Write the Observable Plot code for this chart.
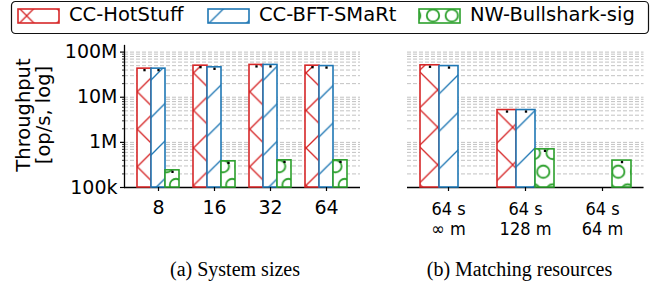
<!DOCTYPE html>
<html><head><meta charset="utf-8">
<script src="https://cdn.jsdelivr.net/npm/d3@7"></script>
<script src="https://cdn.jsdelivr.net/npm/@observablehq/plot@0.6"></script>
<style>
html,body{margin:0;padding:0;background:#fff;}
#fig{position:relative;width:657px;height:283px;overflow:hidden;}
#fig > svg{position:absolute;left:0;top:0;}
</style></head><body><div id="fig"></div>
<script>
// ---------- data ----------
const seriesNames = ["CC-HotStuff", "CC-BFT-SMaRt", "NW-Bullshark-sig"];
const seriesColors = ["#d62728", "#1f77b4", "#2ca02c"];
const seriesHatch = ["x", "/", "o"];

const leftGroups = ["8", "16", "32", "64"];
const leftHotStuff  = [43e6, 50e6, 52e6, 50e6];
const leftBFTSMaRt  = [43e6, 46e6, 52e6, 49e6];
const leftBullshark = [2.4e5, 3.8e5, 4.0e5, 4.0e5];

const rightGroups = ["inf", "128", "64"];
const rightLabelTop = ["64 s", "64 s", "64 s"];
const rightLabelBottom = ["\u221e m", "128 m", "64 m"];
const rightHotStuff  = [51e6, 5.2e6, null];
const rightBFTSMaRt  = [49e6, 5.2e6, null];
const rightBullshark = [null, 7.0e5, 3.95e5];

const yDomain = [1e5, 1.4e8];
const yTicks = [1e5, 1e6, 1e7, 1e8];
const yTickLabels = ["100k", "1M", "10M", "100M"];

const legendLabels = seriesNames;
const captions = ["(a) System sizes", "(b) Matching resources"];
const yLabelLines = ["Throughput", "[op/s, log]"];

// ---------- helpers ----------
const NS = "http://www.w3.org/2000/svg";
const fig = document.getElementById("fig");
const W = 657, H = 283;
const T = 37.5;           // hatch period
const defsSvg = document.createElementNS(NS, "svg");
defsSvg.setAttribute("width", 0); defsSvg.setAttribute("height", 0);
defsSvg.style.position = "absolute";
const defs = document.createElementNS(NS, "defs");
defsSvg.appendChild(defs);
document.body.appendChild(defsSvg);

function el(tag, attrs, parent) {
  const e = document.createElementNS(NS, tag);
  for (const k in attrs) e.setAttribute(k, attrs[k]);
  if (parent) parent.appendChild(e);
  return e;
}
function addPattern(id, kind, color, gx, gy) {
  const pw = kind === "o" ? T / 2 : T, ph = T;
  const p = el("pattern", {id, patternUnits: "userSpaceOnUse", width: pw, height: ph, x: gx, y: gy}, defs);
  el("rect", {x: 0, y: 0, width: pw, height: ph, fill: "white"}, p);
  const sw = 1.3;
  if (kind === "x" || kind === "/") {
    for (let k = -1; k <= 2; k++) {
      const c = k * T;
      // x + y = c  (rising to the right)
      el("line", {x1: c + T, y1: -T, x2: c - 2 * T, y2: 2 * T, stroke: color, "stroke-width": sw}, p);
      if (kind === "x") // x - y = c
        el("line", {x1: c - T, y1: -T, x2: c + 2 * T, y2: 2 * T, stroke: color, "stroke-width": sw}, p);
    }
  } else {
    const r = 6.2;
    [[0, 0], [pw, 0], [0, ph], [pw, ph], [pw / 2, ph / 2]].forEach(([cx, cy]) =>
      el("circle", {cx, cy, r, fill: "none", stroke: color, "stroke-width": 1.8}, p));
  }
  return id;
}
let cloneCount = 0;
function rephase(svg) {
  svg.querySelectorAll('[fill^="url(#"]').forEach(g => {
    const baseId = g.getAttribute("fill").slice(5, -1);
    const base = document.getElementById(baseId);
    if (!base) return;
    const rects = g.tagName === "rect" ? [g] : Array.from(g.querySelectorAll("rect"));
    rects.forEach(r => {
      const m = r.getCTM();
      const c = base.cloneNode(true);
      const id = baseId + "-c" + (cloneCount++);
      c.id = id;
      c.setAttribute("x", +base.getAttribute("x") - m.e);
      c.setAttribute("y", +base.getAttribute("y") - m.f);
      defs.appendChild(c);
      r.setAttribute("fill", `url(#${id})`);
    });
  });
}

const gridTicks = d3.scaleLog().domain(yDomain).ticks();
const minorTicks = gridTicks.filter(t => !yTicks.includes(t));
const yLabelOf = new Map(yTicks.map((t, i) => [t, yTickLabels[i]]));

function rowsOf(groups, cols) {
  const out = [];
  groups.forEach((g, i) => cols.forEach((col, s) => {
    if (col[i] != null) out.push({group: g, series: seriesNames[s], value: col[i]});
  }));
  return out;
}

function panel(o) {
  const common = {
    width: W, height: H,
    marginLeft: o.marginLeft, marginRight: o.marginRight, marginTop: 45, marginBottom: H - 187,
    style: {background: "transparent", fontFamily: o.fontFamily, fontSize: o.fontSize + "px", color: "black", overflow: "visible"}
  };
  // background layer: grid, axes lines
  const bgMarks = [
    Plot.ruleY(gridTicks, {stroke: "#c2c2c2", strokeWidth: 1, strokeDasharray: "4,2"})
  ];
  if (o.yAxis) {
    bgMarks.push(
      Plot.axisY(yTicks, {tickSize: 4, tickPadding: 3, tickFormat: d => yLabelOf.get(d), strokeWidth: 1.2}),
      Plot.axisY(minorTicks, {tickSize: 2, tickFormat: () => "", strokeWidth: 0.8}),
      Plot.frame({anchor: "left", stroke: "black", strokeWidth: 1.3})
    );
  }
  bgMarks.push(Plot.ruleY([yDomain[0]], {stroke: "black", strokeWidth: 1.3}));
  const bg = Plot.plot({...common, y: {type: "log", domain: yDomain, axis: null}, marks: bgMarks});

  // bars layer
  const barMarks = seriesNames.map((s, k) => Plot.barY(o.rows.filter(d => d.series === s), {
    fx: "group", x: "series", y1: yDomain[0], y2: "value",
    fill: `url(#${o.id}-${k})`, stroke: seriesColors[k], strokeWidth: 1.6
  }));
  barMarks.push(Plot.dot(o.rows, {fx: "group", x: "series", y: "value", symbol: "square", r: 1.3, fill: "black", dy: 1.5}));
  barMarks.push(Plot.axisFx({anchor: "bottom", tickSize: 4, tickPadding: o.tickPadding, tickFormat: o.tickFormat,
    lineHeight: o.lineHeight, label: null, strokeWidth: 1.2}));
  const bars = Plot.plot({
    ...common,
    fx: {domain: o.groups, paddingInner: o.paddingInner, paddingOuter: o.paddingOuter, label: null},
    x: {domain: seriesNames, padding: 0, axis: null},
    y: {type: "log", domain: yDomain, axis: null},
    marks: barMarks
  });
  fig.appendChild(bg);
  fig.appendChild(bars);
  rephase(bars);
}

// ---------- patterns ----------
// left panel
addPattern("L-0", "x", seriesColors[0], 137.3, 91.7);
addPattern("L-1", "/", seriesColors[1], 6, 0);
addPattern("L-2", "o", seriesColors[2], 176, 185);
// right panel
addPattern("R-0", "x", seriesColors[0], 512.7, 127.3);
addPattern("R-1", "/", seriesColors[1], 8, 0);
addPattern("R-2", "o", seriesColors[2], 543.3, 171.7);
// legend
addPattern("G-0", "x", seriesColors[0], 26.7, 15.8);
addPattern("G-1", "/", seriesColors[1], 232.2, 0);
addPattern("G-2", "o", seriesColors[2], 433, 15.5);

// ---------- panels ----------
panel({
  id: "L", groups: leftGroups,
  rows: rowsOf(leftGroups, [leftHotStuff, leftBFTSMaRt, leftBullshark]),
  marginLeft: 124, marginRight: W - 360, paddingInner: 0.247, paddingOuter: 0.196,
  fontFamily: "DejaVu Sans", fontSize: 19, tickPadding: 8, lineHeight: 1.1,
  tickFormat: d => d, yAxis: true
});
const rightLabelOf = new Map(rightGroups.map((g, i) => [g, rightLabelTop[i] + "\n" + rightLabelBottom[i]]));
panel({
  id: "R", groups: rightGroups,
  rows: rowsOf(rightGroups, [rightHotStuff, rightBFTSMaRt, rightBullshark]),
  marginLeft: 407, marginRight: W - 643.5, paddingInner: 0.248, paddingOuter: 0.144,
  fontFamily: "DejaVu Sans Condensed, DejaVu Sans", fontSize: 18, tickPadding: 9.5, lineHeight: 1.11,
  tickFormat: d => rightLabelOf.get(d), yAxis: false
});

// ---------- legend, y label, captions ----------
const ov = d3.select(fig).append("svg").attr("width", W).attr("height", H).attr("viewBox", `0 0 ${W} ${H}`)
  .style("font-family", "DejaVu Sans");
ov.append("rect").attr("x", 11.5).attr("y", 1.5).attr("width", 637).attr("height", 32).attr("rx", 4)
  .attr("fill", "white").attr("stroke", "#111").attr("stroke-width", 1.2);
const patchX = [18, 208, 419], textX = [69, 259, 470];
legendLabels.forEach((lab, k) => {
  ov.append("rect").attr("x", patchX[k]).attr("y", 9).attr("width", 41).attr("height", 14)
    .attr("fill", `url(#G-${k})`).attr("stroke", seriesColors[k]).attr("stroke-width", 1.6);
  ov.append("text").attr("x", textX[k]).attr("y", 21).attr("font-size", 19.5).attr("fill", "black").text(lab);
});
yLabelLines.forEach((t, i) => {
  ov.append("text").attr("transform", `translate(${29.5 + 20 * i},115) rotate(-90)`)
    .attr("text-anchor", "middle").attr("font-size", 19.5).attr("fill", "black").text(t);
});
[[235, captions[0]], [519.5, captions[1]]].forEach(([x, t]) => {
  ov.append("text").attr("x", x).attr("y", 275.5).attr("text-anchor", "middle")
    .attr("font-family", "Liberation Serif, Times New Roman, serif").attr("font-size", 20).attr("fill", "black").text(t);
});
</script></body></html>
